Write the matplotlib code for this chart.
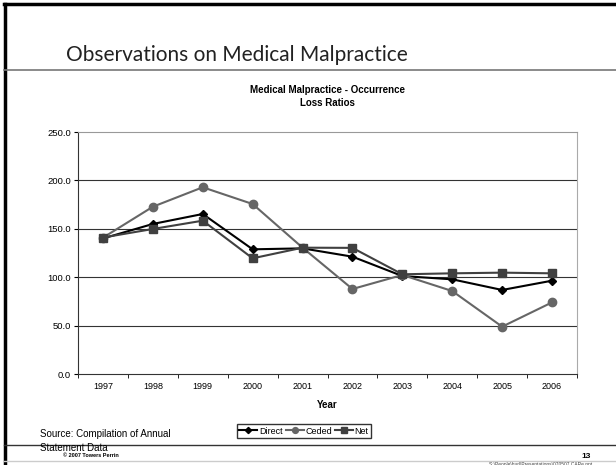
import matplotlib
matplotlib.use("Agg")
import matplotlib.pyplot as plt
from matplotlib.lines import Line2D
import numpy as np

plt.rcParams['font.family'] = ['Liberation Sans', 'DejaVu Sans']

years = ['1997', '1998', '1999', '2000', '2001', '2002', '2003', '2004', '2005', '2006']
direct = [140.0, 155.0, 165.3, 128.8, 129.8, 121.2, 101.2, 97.8, 86.8, 96.4]
ceded = [140.8, 172.8, 192.9, 175.6, 130.5, 87.8, 102.3, 85.7, 48.9, 74.0]
net = [141.0, 149.8, 158.4, 119.5, 130.5, 130.3, 103.0, 104.0, 104.7, 104.0]
yticks = [0, 50, 100, 150, 200, 250]

W, H = 616, 465
fig = plt.figure(figsize=(W / 100, H / 100), dpi=100)

def px(x0, y0, x1, y1):
    # pixel box -> figure fraction [left, bottom, width, height]
    return [x0 / W, 1 - y1 / H, (x1 - x0) / W, (y1 - y0) / H]

# slide decorations
def hline(y, x0, x1, color, lw):
    fig.add_artist(Line2D([x0 / W, x1 / W], [1 - y / H, 1 - y / H], color=color, lw=lw,
                          transform=fig.transFigure))

hline(4, 4, W, 'black', 2.5)
fig.add_artist(Line2D([4.5 / W, 4.5 / W], [0, 1 - 4 / H], color='black', lw=2.5,
                      transform=fig.transFigure))
hline(70, 4, W, '#777777', 1.2)
hline(445, 4, W, '#333333', 1.0)
hline(461, 4, W, '#cccccc', 1.0)

fig.text(66 / W, 1 - 55 / H, 'Observations on Medical Malpractice', fontsize=15,
         family=['Lato', 'Liberation Sans'], fontweight='normal',
         va='center', ha='left', color='#222222')

ax = fig.add_axes(px(78, 132, 577, 374))
x = np.arange(len(years))
ax.plot(x, direct, color='black', marker='D', markersize=4.5, lw=1.5, label='Direct')
ax.plot(x, ceded, color='#666666', marker='o', markersize=6, lw=1.5, label='Ceded')
ax.plot(x, net, color='#404040', marker='s', markersize=5.5, lw=1.5, label='Net')

ax.set_xlim(-0.5, len(years) - 0.5)
ax.set_ylim(0, 250)
ax.set_yticks(yticks)
ax.set_yticklabels(['%.1f' % v for v in yticks], fontsize=6.8)
ax.set_xticks(x)
ax.set_xticklabels(years, fontsize=6.5)
ax.set_xticks(np.arange(-0.5, len(years)), minor=True)
ax.tick_params(axis='x', which='major', length=0, pad=6)
ax.tick_params(axis='x', which='minor', length=3, direction='out')
ax.tick_params(axis='y', length=3, direction='out', pad=2)
for v in yticks[1:-1]:
    ax.axhline(v, color='#333333', lw=0.8, zorder=0)
ax.spines['top'].set_color('#999999')
ax.spines['right'].set_color('#aaaaaa')
ax.spines['left'].set_color('#333333')
ax.spines['bottom'].set_color('#333333')

ax.set_title('Medical Malpractice - Occurrence\nLoss Ratios', fontsize=7, fontweight='bold',
             pad=19, linespacing=1.3)
ax.set_xlabel('Year', fontsize=7, fontweight='bold', labelpad=6)

leg = fig.legend(loc='center', bbox_to_anchor=(304 / W, 1 - 431 / H), ncol=3, fontsize=6.5,
                 frameon=True, fancybox=False, edgecolor='black', handlelength=2,
                 handletextpad=0.2, columnspacing=0.3, borderpad=0.3, markerscale=0.7)
leg.get_frame().set_linewidth(1.0)

fig.text(40 / W, 1 - 441 / H, 'Source: Compilation of Annual\nStatement Data', fontsize=7,
         va='center', ha='left', linespacing=1.45)
fig.text(63 / W, 1 - 455 / H, '\u00a9 2007 Towers Perrin', fontsize=4, fontweight='bold',
         va='center', ha='left')
fig.text(591 / W, 1 - 456 / H, '13', fontsize=6, fontweight='bold', va='center', ha='right')
fig.text(592 / W, 1 - 464 / H, 'S:\\People\\hurl\\Presentations\\070507 CARe.ppt', fontsize=3.5,
         va='center', ha='right', color='#444444')

fig.savefig('out.png', dpi=100)
